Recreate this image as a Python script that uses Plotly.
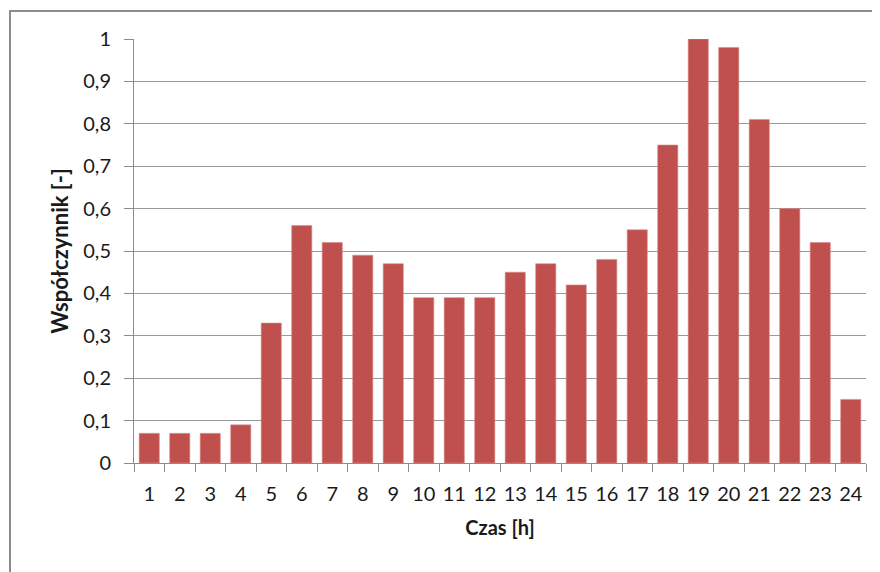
import plotly.graph_objects as go

hours = [str(h) for h in range(1, 25)]
values = [0.07, 0.07, 0.07, 0.09, 0.33, 0.56, 0.52, 0.49, 0.47, 0.39, 0.39, 0.39,
          0.45, 0.47, 0.42, 0.48, 0.55, 0.75, 1.00, 0.98, 0.81, 0.60, 0.52, 0.15]
y_ticks = [0, 0.1, 0.2, 0.3, 0.4, 0.5, 0.6, 0.7, 0.8, 0.9, 1.0]
y_labels = ["0", "0,1", "0,2", "0,3", "0,4", "0,5", "0,6", "0,7", "0,8", "0,9", "1"]

OFF = 8  # page body offset
L, R, T, B = 134 - OFF, 22, 39 - OFF, 117
W, H = 880, 572
pw, ph = W - L - R, H - T - B

fig = go.Figure(go.Bar(
    x=hours, y=values,
    marker=dict(color="#C0504D", line=dict(color="#D98A88", width=0.6)),
    width=0.66,
))

fig.update_layout(
    width=W, height=H,
    margin=dict(l=L, r=R, t=T, b=B),
    paper_bgcolor="white", plot_bgcolor="white",
    font=dict(family="Lato, Open Sans, sans-serif", color="#1a1a1a"),
    showlegend=False,
    shapes=[dict(type="rect", xref="paper", yref="paper",
                 x0=(10 - OFF - L) / pw, x1=(890 - OFF - L) / pw,
                 y0=(ph - (590 - OFF - T)) / ph, y1=(ph - (11 - OFF - T)) / ph,
                 line=dict(color="#8c8c8c", width=2), fillcolor="rgba(0,0,0,0)",
                 layer="below")],
)
fig.update_xaxes(
    type="category", tickson="boundaries", ticks="outside", ticklen=8,
    tickcolor="#8c8c8c", showline=True, linecolor="#8c8c8c", linewidth=1,
    showgrid=False, tickfont=dict(size=20), ticklabelstandoff=13, tickangle=0,
    title=dict(text="<b>Czas [h]</b>", font=dict(size=20), standoff=16),
)
fig.update_yaxes(
    range=[0, 1], tickvals=y_ticks, ticktext=y_labels,
    ticks="outside", ticklen=9, tickcolor="#8c8c8c",
    showline=True, linecolor="#8c8c8c", linewidth=1,
    showgrid=True, gridcolor="#9a9a9a", gridwidth=1,
    zeroline=False, tickfont=dict(size=20), ticklabelstandoff=9,
    title=dict(text="<b>Współczynnik [-]</b>", font=dict(size=22), standoff=8),
)

fig.write_html("out.html")
